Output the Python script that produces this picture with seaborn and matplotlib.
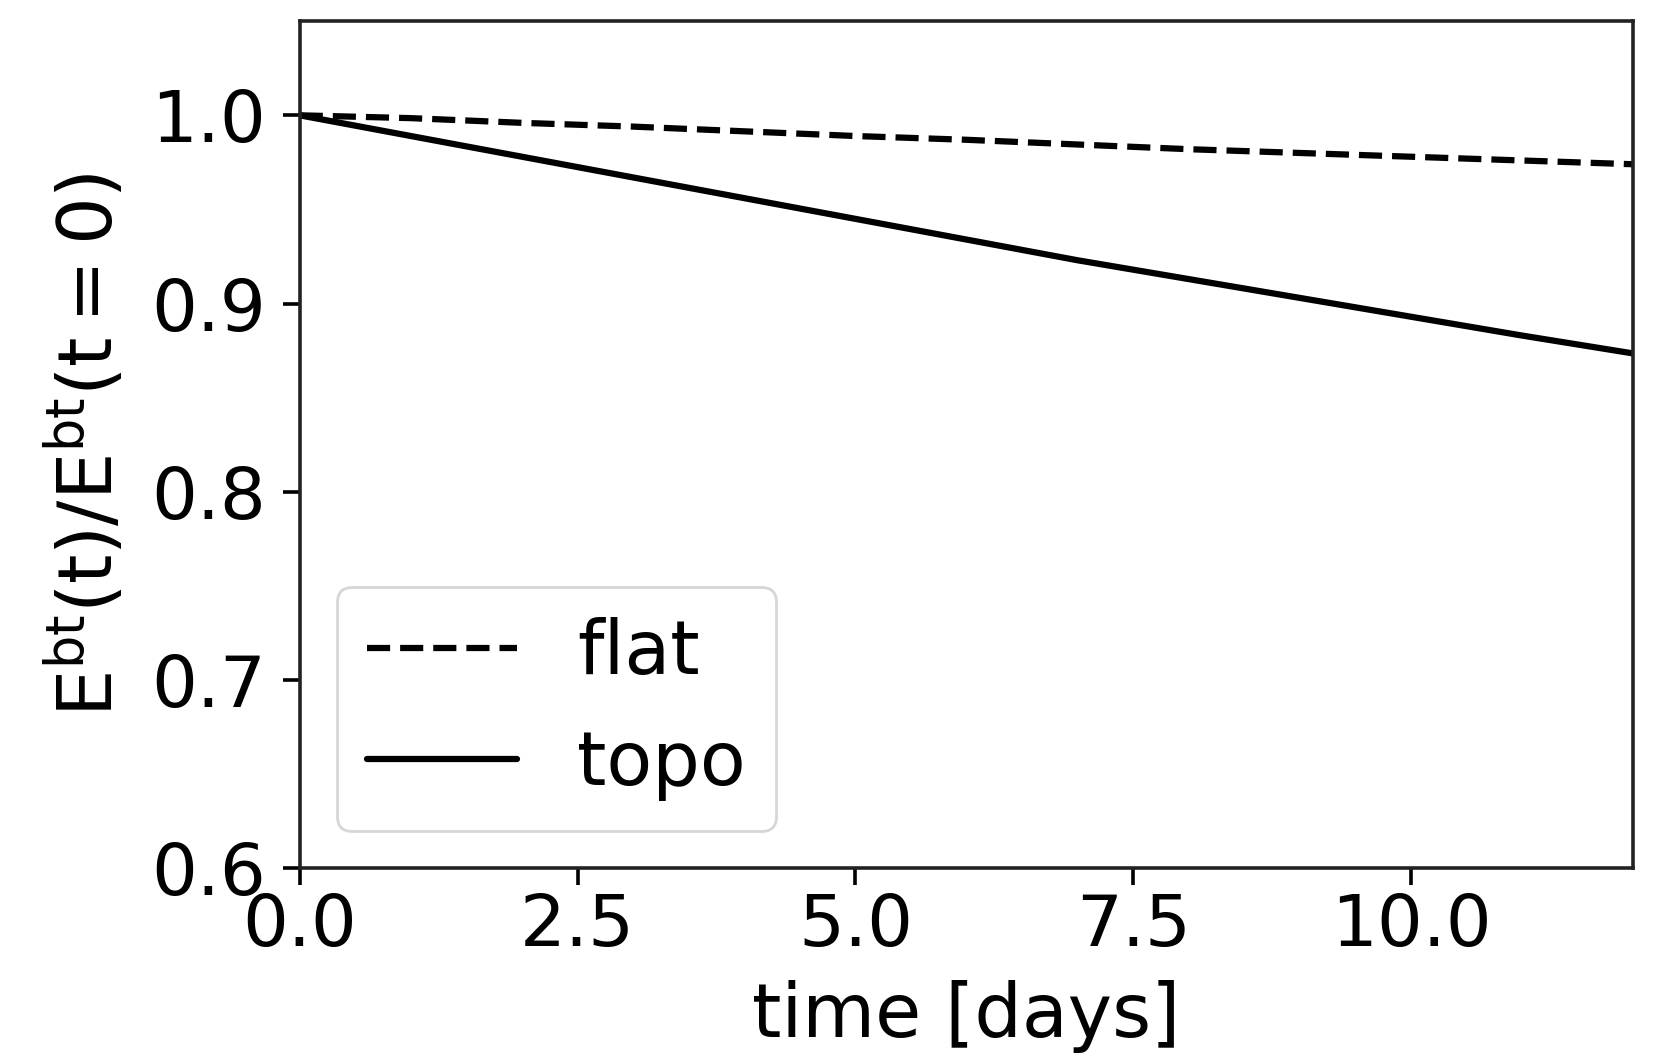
import matplotlib
matplotlib.use("Agg")
import matplotlib.pyplot as plt
import seaborn as sns
import pandas as pd

time_days = [0, 1, 2, 3, 4, 5, 6, 7, 8, 9, 10, 11, 12]
flat_vals = [1.0, 0.9985, 0.996, 0.994, 0.9915, 0.989, 0.987, 0.9845, 0.982, 0.980, 0.978, 0.976, 0.974]
topo_vals = [1.0, 0.989, 0.978, 0.967, 0.956, 0.945, 0.934, 0.923, 0.913, 0.903, 0.893, 0.883, 0.8735]
series_names = ["flat", "topo"]

df = pd.concat([
    pd.DataFrame({"t": time_days, "E": flat_vals, "case": series_names[0]}),
    pd.DataFrame({"t": time_days, "E": topo_vals, "case": series_names[1]}),
])

sns.set_theme(style="ticks")
plt.rcParams['font.family'] = ['DejaVu Sans']
plt.rcParams['mathtext.fontset'] = 'dejavusans'
plt.rcParams['text.color'] = 'black'

fig, ax = plt.subplots(figsize=(16.65, 10.59), dpi=100)
fig.subplots_adjust(left=0.180, right=0.981, top=0.980, bottom=0.180)

sns.lineplot(data=df, x="t", y="E", style="case", style_order=series_names,
             dashes={"flat": (3.7, 1.6), "topo": ""}, color="black",
             linewidth=4.5, ax=ax)

ax.set_xlim(0, 12)
ax.set_ylim(0.6, 1.05)
ax.set_xticks([0, 2.5, 5.0, 7.5, 10.0])
ax.set_xticklabels(["0.0", "2.5", "5.0", "7.5", "10.0"])
ax.set_yticks([0.6, 0.7, 0.8, 0.9, 1.0])
ax.set_yticklabels(["0.6", "0.7", "0.8", "0.9", "1.0"])
ax.tick_params(labelsize=52, length=12, width=2.6, color="black", labelcolor="black")
ax.tick_params(axis="y", pad=12)
ax.tick_params(axis="x", pad=5)
for s in ax.spines.values():
    s.set_linewidth(2.6)
    s.set_color("#222222")

ax.set_xlabel("time [days]", fontsize=54, color="black", labelpad=14)
ax.set_ylabel(r"$\mathrm{E^{bt}(t)/E^{bt}(t=0)}$", fontsize=54, color="black", labelpad=16)

leg = ax.legend(loc="lower left", fontsize=54, handlelength=2.0, frameon=True,
                fancybox=True, borderaxespad=0.5)
leg.get_frame().set_edgecolor("#cccccc")
leg.get_frame().set_linewidth(2)
for t in leg.get_texts():
    t.set_color("black")
for line in leg.get_lines():
    line.set_linewidth(4.5)
    line.set_color("black")

fig.savefig("out.png", dpi=100)
